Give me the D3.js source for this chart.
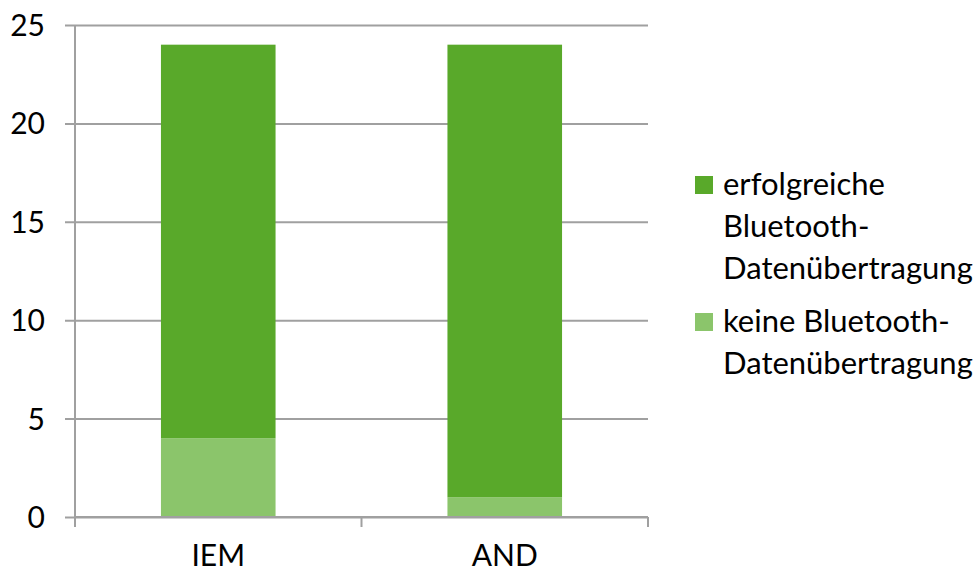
<!DOCTYPE html>
<html>
<head>
<meta charset="utf-8">
<script src="https://cdn.jsdelivr.net/npm/d3@7"></script>
<style>
  html, body { margin: 0; padding: 0; background: #fff; }
  svg text { font-family: Lato, "Open Sans", sans-serif; fill: #000; }
</style>
</head>
<body>
<svg id="chart" width="977" height="571"></svg>
<script>
// Bluetooth transfer results per device group
const categories = ["IEM", "AND"];
const successValues = [20, 23];   // erfolgreiche Bluetooth-Datenübertragung
const failedValues = [4, 1];      // keine Bluetooth-Datenübertragung
const yTicks = [0, 5, 10, 15, 20, 25];
const legendLabels = [
  ["erfolgreiche", "Bluetooth-", "Datenübertragung"],
  ["keine Bluetooth-", "Datenübertragung"]
];

const colors = { success: "#59a92a", failed: "#8bc56b" };
const fontSize = 30;
const legendFontSize = 31;

const svg = d3.select("#chart");
const margin = { left: 75, top: 25 };
const width = 648 - 75, height = 517 - 25;

const g = svg.append("g").attr("transform", `translate(${margin.left},${margin.top})`);

const x = d3.scaleBand().domain(categories).range([0, width]).paddingInner(0.6).paddingOuter(0.3);
const y = d3.scaleLinear().domain([0, 25]).range([height, 0]);

// horizontal gridlines + y ticks
const yAxis = g.append("g")
  .call(d3.axisLeft(y).tickValues(yTicks).tickSize(-width).tickSizeOuter(0).tickPadding(20));
yAxis.select(".domain").remove();
yAxis.selectAll(".tick line").attr("stroke", "#a0a0a0").attr("stroke-width", 2).attr("x1", -10);
yAxis.selectAll(".tick text").style("font-size", fontSize + "px").attr("x", -30).attr("dy", "0.35em");

// stacked bars
const stackData = categories.map((c, i) => ({ cat: c, failed: failedValues[i], success: successValues[i] }));
const series = d3.stack().keys(["failed", "success"])(stackData);
g.append("g").selectAll("g").data(series).join("g")
  .attr("fill", d => colors[d.key])
  .selectAll("rect").data(d => d).join("rect")
  .attr("x", d => x(d.data.cat))
  .attr("width", x.bandwidth())
  .attr("y", d => y(d[1]))
  .attr("height", d => y(d[0]) - y(d[1]));

// y axis line
g.append("line").attr("x1", 0).attr("x2", 0).attr("y1", 0).attr("y2", height + 10)
  .attr("stroke", "#a0a0a0").attr("stroke-width", 2);

// x axis with category separators
const xAxis = g.append("g").attr("transform", `translate(0,${height})`)
  .call(d3.axisBottom(x).tickSize(0).tickPadding(28));
xAxis.select(".domain").remove();
xAxis.selectAll(".tick text").style("font-size", fontSize + "px");
g.append("line").attr("x1", 0).attr("x2", width).attr("y1", height).attr("y2", height)
  .attr("stroke", "#a0a0a0").attr("stroke-width", 2);
[0, width / 2, width].forEach(px => {
  g.append("line").attr("x1", px).attr("x2", px).attr("y1", height).attr("y2", height + 10)
    .attr("stroke", "#a0a0a0").attr("stroke-width", 2);
});

// legend
const legend = svg.append("g").attr("transform", "translate(695,0)");
const legendItems = [
  { key: "success", lines: legendLabels[0], top: 176 },
  { key: "failed", lines: legendLabels[1], top: 313 }
];
legendItems.forEach(item => {
  legend.append("rect").attr("x", 0).attr("y", item.top).attr("width", 18).attr("height", 18)
    .attr("fill", colors[item.key]);
  const t = legend.append("text").attr("x", 28).attr("y", item.top + 18.5)
    .style("font-size", legendFontSize + "px");
  item.lines.forEach((ln, i) => {
    t.append("tspan").attr("x", 28).attr("dy", i === 0 ? 0 : 42).text(ln);
  });
});
</script>
</body>
</html>
